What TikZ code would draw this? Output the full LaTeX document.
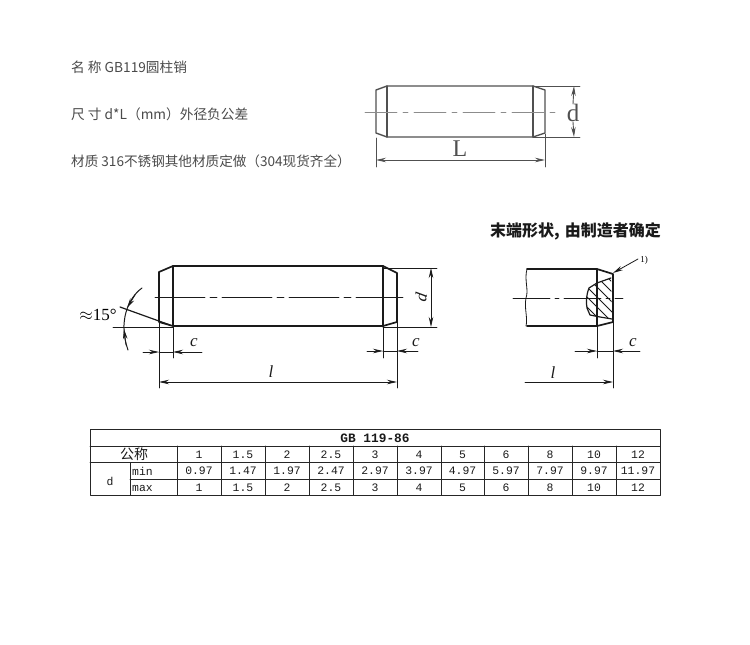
\documentclass[tikz,border=0pt]{standalone}
\usepackage{fontspec}
\usetikzlibrary{arrows.meta}
\setmainfont{Noto Sans CJK SC}
\newfontfamily\cjk{Noto Sans CJK SC}
\newfontfamily\drawfont{Liberation Serif}
\newfontfamily\tabfont{Liberation Mono}
\definecolor{infotext}{HTML}{4A4A4A}
\definecolor{pincolor}{HTML}{1A1A1A}
\definecolor{smallpin}{HTML}{505050}
\tikzset{
	infoline/.style={anchor=west,text=infotext,inner sep=0pt,font=\fontsize{13.7}{16}\selectfont},
	thick line/.style={line width=1.7pt,draw=pincolor},
	thin line/.style={line width=0.8pt,draw=pincolor},
	center line/.style={line width=0.8pt,draw=pincolor,dash pattern=on 50pt off 5pt on 7pt off 5pt},
	small thick/.style={line width=1.4pt,draw=smallpin},
	small thin/.style={line width=0.9pt,draw=smallpin},
	small letter/.style={inner sep=0pt,text=smallpin,font=\drawfont\fontsize{25}{26}\selectfont},
	letter/.style={inner sep=0pt,text=pincolor,font=\drawfont\itshape\fontsize{17}{18}\selectfont},
	tab cell/.style={inner sep=0pt,text=pincolor,font=\tabfont\fontsize{11.4}{12}\selectfont},
	tab line/.style={line width=0.9pt,draw=black!85},
}
\begin{document}
\begin{tikzpicture}[x=1pt,y=-1pt,line join=round,line cap=round,>={Stealth[length=10pt,width=4.5pt]}]
	\useasboundingbox (0,0) rectangle (750,645);
	% texts at the left
	\node[infoline] (name) at (71,67) {名 称 GB119圆柱销};
	\node[infoline] (size) at (71,114) {尺 寸 d*L（mm）外径负公差};
	\node[infoline,font=\fontsize{13.6}{16}\selectfont] (material) at (71,161) {材质 316不锈钢其他材质定做（304现货齐全）};
	% small pin
	\draw[small thick] (387,86)--(533,86)--(545,90)--(545,133)--(533,137)--(387,137)--(376,133)--(376,90)--cycle;
	\draw[small thick] (387,86)--(387,137);
	\draw[small thick] (533,86)--(533,137);
	\draw[line width=0.7pt,draw=black!45,dash pattern=on 32pt off 6pt on 5pt off 6pt] (365,112)--(557,112);
	\draw[small thin] (533,86)--(580,86);
	\draw[small thin] (533,137)--(580,137);
	\draw[small thin] (376,138)--(376,167);
	\draw[small thin] (545,134)--(545,167);
	\node[small letter] (smalld) at (573,113) {d};
	\node[small letter,font=\drawfont\fontsize{24}{25}\selectfont] (smallL) at (460,149) {L};
	\coordinate (dtop) at (574,86);
	\coordinate (dbot) at (574,137);
	\coordinate (Lleft) at (376,160);
	\coordinate (Lright) at (545,160);
	\draw[small thin,->] (smalld.north)--(dtop);
	\draw[small thin,->] (smalld.south)--(dbot);
	\draw[small thin,<->] (Lleft)--(Lright);
	% heading of the end form
	\node[inner sep=0pt,anchor=west,text=pincolor,font=\bfseries\fontsize{16}{18}\selectfont] (endform) at (490,231) {末端形状,\hspace{5pt}由制造者确定};
	% big pin
	\draw[thick line] (173,266)--(383,266)--(397,273)--(397,322)--(383,326)--(173,326)--(159,322)--(159,272)--cycle;
	\draw[thick line] (173,266)--(173,326);
	\draw[thick line] (383,266)--(383,326);
	\draw[center line] (155,297)--(403,297);
	% extension lines
	\draw[thin line] (173,326)--(173,358);
	\draw[thin line] (383,326)--(383,358);
	\draw[thin line] (159,322)--(159,388);
	\draw[thin line] (397,322)--(397,388);
	\draw[thin line] (383,268)--(437,268);
	\draw[thin line] (383,327)--(437,327);
	\draw[thin line,<->] (431,268)--(431,327);
	\node[letter,rotate=80] (bigd) at (421,297) {d};
	\draw[thin line,->] (143,352)--(159,352);
	\draw[thin line,<-] (173,352)--(202,352);
	\draw[thin line] (159,352)--(173,352);
	\node[letter] (cleft) at (194,343) {c};
	\draw[thin line,->] (367,351)--(383,351);
	\draw[thin line,<-] (397,351)--(418,351);
	\draw[thin line] (383,351)--(397,351);
	\node[letter] (cright) at (416,343) {c};
	\draw[thin line,<->] (159,382)--(397,382);
	\node[letter] (bigl) at (271,372) {l};
	% angle
	\draw[thin line] (113,327)--(173,327);
	\draw[line width=1.2pt,draw=pincolor] (120,307)--(170,325);
	\draw[line width=1pt,draw=pincolor] (142,288) .. controls (128,298) and (118,322) .. (128,350);
	\draw[thin line,->] (135,295)--(127,308);
	\draw[thin line,->] (126,345)--(124,329);
	\node[inner sep=0pt,font=\drawfont\fontsize{17}{18}\selectfont] (angle) at (98,315) {$\approx$15\textdegree};
	% section view
	\draw[thick line] (597,269)--(527,269);
	\draw[thick line] (597,326)--(527,326);
	\draw[thin line] (527,269) .. controls (524,280) and (529,290) .. (526,298) .. controls (524,308) and (528,318) .. (526,326);
	\draw[thick line] (597,269)--(613,274)--(613,322)--(597,326)--cycle;
	\draw[thin line] (597,326)--(597,358);
	\draw[thin line] (613,322)--(613,388);
	\draw[line width=0.8pt,draw=pincolor,dash pattern=on 37pt off 5pt on 4pt off 5pt] (513,298)--(623,298);
	\begin{scope}
		\clip (611,278)--(597,283)--(589,288) .. controls (586,296) and (586,302) .. (587,308)--(590,315)--(600,317)--(612,319)--cycle;
		\foreach \hatch in {-40,-30,...,40}
			\draw[line width=1pt,draw=pincolor] (580,\hatch+280)--(630,\hatch+330);
	\end{scope}
	\draw[line width=1.2pt,draw=pincolor] (611,278)--(597,283)--(589,288) .. controls (586,296) and (586,302) .. (587,308)--(590,315)--(600,317)--(612,319);
	\coordinate (tip) at (613,273);
	\node[inner sep=0pt,font=\drawfont\fontsize{9}{10}\selectfont] (note) at (644,260) {1)};
	\draw[thin line,->] (638,259)--(tip);
	\draw[thin line,->] (575,351)--(597,351);
	\draw[thin line,<-] (613,351)--(640,351);
	\draw[thin line] (597,351)--(613,351);
	\node[letter] (csec) at (633,343) {c};
	\draw[thin line,->] (525,382)--(613,382);
	\node[letter] (lsec) at (553,373) {l};
	% table
	\draw[tab line] (90,429.5) rectangle (660,495);
	\foreach \rowy in {446,462.5}
		\draw[tab line] (90,\rowy)--(660,\rowy);
	\draw[tab line] (130,479)--(660,479);
	\draw[tab line] (130,462.5)--(130,495);
	\foreach \colx in {177,221,265,309,353,397,441,484,528,572,616}
		\draw[tab line] (\colx,446)--(\colx,495);
	\node[tab cell,font=\tabfont\bfseries\fontsize{12.8}{13}\selectfont] (title) at (375,438) {GB 119-86};
	\node[tab cell,font=\cjk\fontsize{14}{15}\selectfont] (nominal) at (134,454) {公称};
	\node[tab cell] (dcell) at (110,481) {d};
	\node[tab cell] (mincell) at (142.5,471) {min};
	\node[tab cell] (maxcell) at (142.5,488) {max};
	\foreach \colx/\dia/\low in {199/1/0.97,243/1.5/1.47,287/2/1.97,331/2.5/2.47,375/3/2.97,419/4/3.97,462.5/5/4.97,506/6/5.97,550/8/7.97,594/10/9.97,638/12/11.97}{
		\node[tab cell] (nom-\dia) at (\colx,454.5) {\dia};
		\node[tab cell] (min-\dia) at (\colx,471) {\low};
		\node[tab cell] (max-\dia) at (\colx,487.5) {\dia};
	}
\end{tikzpicture}
\end{document}
